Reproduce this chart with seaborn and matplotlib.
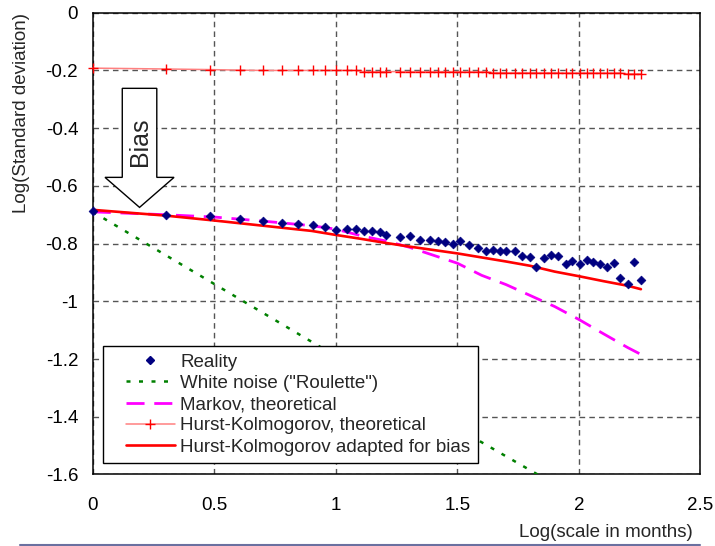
import matplotlib
matplotlib.use('Agg')
import matplotlib.pyplot as plt
import matplotlib.patches as mpatches
from matplotlib.lines import Line2D
from matplotlib.legend_handler import HandlerLine2D
import seaborn as sns

# observed points: log10 of scale (months) vs log10 of standard deviation
log_scale = [0, 0.302, 0.481, 0.607, 0.699, 0.78, 0.845, 0.907, 0.955, 1.0,
             1.044, 1.081, 1.115, 1.15, 1.181, 1.206, 1.263, 1.307, 1.345, 1.386,
             1.42, 1.451, 1.481, 1.51, 1.546, 1.584, 1.616, 1.646, 1.675, 1.701,
             1.735, 1.765, 1.797, 1.824, 1.856, 1.885, 1.913, 1.947, 1.972, 2.003,
             2.033, 2.058, 2.087, 2.116, 2.145, 2.17, 2.201, 2.226, 2.255]
reality = [-0.688, -0.701, -0.706, -0.714, -0.722, -0.727, -0.731, -0.736, -0.744, -0.752,
           -0.748, -0.748, -0.756, -0.756, -0.761, -0.769, -0.776, -0.775, -0.786, -0.786,
           -0.79, -0.794, -0.802, -0.79, -0.806, -0.815, -0.824, -0.823, -0.824, -0.827,
           -0.827, -0.843, -0.848, -0.882, -0.849, -0.839, -0.842, -0.869, -0.861, -0.872,
           -0.856, -0.864, -0.87, -0.882, -0.868, -0.92, -0.94, -0.864, -0.927]
hk_theoretical = [-0.192, -0.195, -0.197, -0.199, -0.2, -0.2, -0.2, -0.2, -0.2, -0.2,
                  -0.2, -0.2, -0.204, -0.204, -0.204, -0.204, -0.204, -0.204, -0.204, -0.204,
                  -0.204, -0.204, -0.204, -0.204, -0.204, -0.204, -0.204, -0.208, -0.208, -0.208,
                  -0.208, -0.208, -0.208, -0.208, -0.208, -0.208, -0.208, -0.209, -0.209, -0.209,
                  -0.209, -0.209, -0.209, -0.209, -0.209, -0.209, -0.212, -0.212, -0.212]

# model curves
curve_x = [0, 0.3, 0.5, 0.7, 0.9, 1.0, 1.1, 1.2, 1.3, 1.4,
           1.5, 1.6, 1.7, 1.8, 1.9, 2.0, 2.1, 2.2, 2.255]
markov = [-0.69, -0.70, -0.708, -0.722, -0.738, -0.75, -0.772, -0.79, -0.812, -0.84,
          -0.868, -0.91, -0.942, -0.98, -1.018, -1.063, -1.112, -1.16, -1.184]
hk_bias = [-0.683, -0.703, -0.72, -0.738, -0.756, -0.77, -0.783, -0.797, -0.81, -0.822,
           -0.834, -0.848, -0.862, -0.877, -0.897, -0.913, -0.93, -0.946, -0.958]
noise_x = [0, 0.5, 1.0, 1.5, 1.83]
white_noise = [-0.69, -0.94, -1.19, -1.44, -1.60]

x_ticks = [0, 0.5, 1, 1.5, 2, 2.5]
x_tick_labels = ['0', '0.5', '1', '1.5', '2', '2.5']
y_ticks = [0, -0.2, -0.4, -0.6, -0.8, -1.0, -1.2, -1.4, -1.6]
y_tick_labels = ['0', '-0.2', '-0.4', '-0.6', '-0.8', '-1', '-1.2', '-1.4', '-1.6']

sns.set_style('white')
plt.rcParams['font.family'] = ['Liberation Sans', 'DejaVu Sans']
plt.rcParams['axes.unicode_minus'] = False

fig = plt.figure(figsize=(7.15, 5.46), dpi=100)
ax = fig.add_axes([0.1297, 0.131, 0.85, 0.8457])

navy = '#000080'
sns.lineplot(x=noise_x, y=white_noise, ax=ax, color='#008000', lw=1.8,
             linestyle=(0, (1.6, 3.4)), zorder=3)
sns.lineplot(x=curve_x, y=markov, ax=ax, color='#ff00ff', lw=2,
             linestyle=(0, (6.5, 3.5)), zorder=3)
sns.lineplot(x=log_scale, y=hk_theoretical, ax=ax, color='#ff8080', lw=1.1,
             marker='+', markersize=7, markeredgecolor='red', markeredgewidth=1,
             clip_on=False, zorder=3)
sns.lineplot(x=curve_x, y=hk_bias, ax=ax, color='red', lw=1.9, zorder=3)
sns.scatterplot(x=log_scale, y=reality, ax=ax, marker='D', s=20, color=navy,
                edgecolor=navy, linewidth=0.5, clip_on=False, zorder=4)

ax.set_xlim(0, 2.5)
ax.set_ylim(-1.6, 0)
ax.set_xticks(x_ticks)
ax.set_xticklabels(x_tick_labels)
ax.set_yticks(y_ticks)
ax.set_yticklabels(y_tick_labels)
ax.tick_params(axis='both', direction='inout', length=9, width=1, color='black',
               labelsize=13.5, labelcolor='black')
ax.tick_params(axis='x', pad=12)
ax.tick_params(axis='y', pad=6)
ax.grid(True, color='#555555', linestyle=(0, (4, 3)), linewidth=1)
ax.set_axisbelow(True)
for s in ax.spines.values():
    s.set_visible(True)
    s.set_color('black')
    s.set_linewidth(1.1)

ax.set_xlabel('Log(scale in months)', fontsize=13.5, loc='right')
ax.xaxis.set_label_coords(0.987, -0.135)
ax.xaxis.label.set_va('baseline')
ax.set_ylabel('Log(Standard deviation)', fontsize=13.5, loc='top')
ax.yaxis.set_label_coords(-0.103, 1.0)

# the "Bias" arrow
arrow = mpatches.FancyArrow(0.1925, -0.262, 0, -0.4125, width=0.142, head_width=0.284,
                            head_length=0.104, length_includes_head=True,
                            fc='white', ec='black', lw=1, zorder=5)
ax.add_patch(arrow)
ax.text(0.1925, -0.447, 'Bias', rotation=90, fontsize=18, ha='center', va='center', zorder=6)

handles = [
    Line2D([], [], linestyle='', marker='D', markersize=4.5, color=navy),
    Line2D([], [], color='#008000', lw=1.8, linestyle=(0, (1.6, 3.4))),
    Line2D([], [], color='#ff00ff', lw=2, linestyle=(0, (6.5, 3.5))),
    Line2D([], [], color='#ff8080', lw=1.1, marker='+', markersize=7,
           markeredgecolor='red', markeredgewidth=1),
    Line2D([], [], color='red', lw=1.9),
]
labels = ['Reality', 'White noise ("Roulette")', 'Markov, theoretical',
          'Hurst-Kolmogorov, theoretical', 'Hurst-Kolmogorov adapted for bias']
leg = ax.legend(handles, labels, loc='lower left', bbox_to_anchor=(0.0175, 0.0245),
                borderaxespad=0, fontsize=13.5, frameon=True, fancybox=False,
                edgecolor='black', framealpha=1, numpoints=1, handlelength=3.4,
                handletextpad=0.3, labelspacing=0.22, borderpad=0.4,
                handler_map={Line2D: HandlerLine2D(xpad=0.8)})
leg.get_frame().set_linewidth(1)
leg.set_zorder(7)

# thin rule under the chart
fig.add_artist(Line2D([20 / 715, 700 / 715], [1.5 / 546, 1.5 / 546], color='#6a70a0', lw=1.5))

fig.savefig('out.png', dpi=100)
